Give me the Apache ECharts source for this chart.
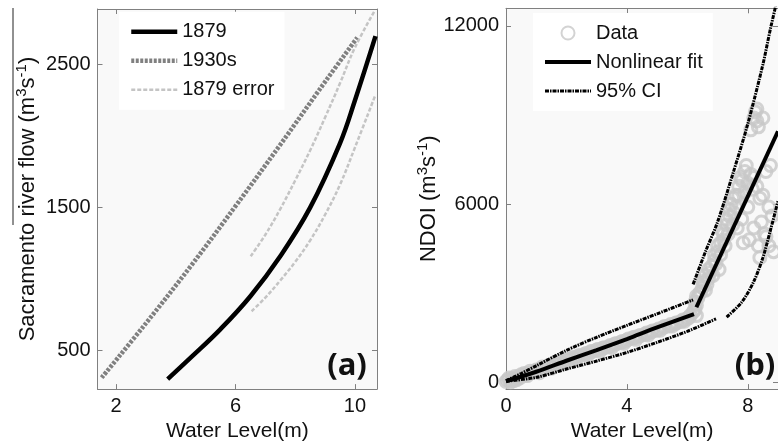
<!DOCTYPE html>
<html>
<head>
<meta charset="utf-8">
<script src="https://cdn.jsdelivr.net/npm/echarts@6/dist/echarts.min.js"></script>
<style>
  html, body { margin: 0; padding: 0; background: #fff; }
  #chart { width: 778px; height: 447px; }
</style>
</head>
<body>
<div id="chart"></div>
<script>
// panel (a): rating curves
const curve1879X = [3.73, 4.5, 5.5, 6.5, 7.5, 8.5, 9.5, 10.0, 10.69];
const curve1879Y = [300, 450, 650, 880, 1160, 1500, 1950, 2250, 2700];
const curve1930X = [1.52, 3, 4.5, 6, 7.5, 9, 10.08];
const curve1930Y = [310, 690, 1090, 1510, 1940, 2380, 2690];
const errUpX = [6.51, 7.0, 7.5, 8.0, 8.5, 9.0, 9.5, 10.0, 10.67];
const errUpY = [1160, 1310, 1490, 1690, 1900, 2130, 2370, 2620, 2880];
const errLowX = [6.54, 7.0, 7.5, 8.0, 8.5, 9.0, 9.5, 10.0, 10.69];
const errLowY = [775, 870, 990, 1120, 1270, 1450, 1660, 1920, 2290];

// panel (b): NDOI vs water level
const dataX = [0.05, 0.1, 0.2, 0.3, 0.4, 0.5, 0.6, 0.8, 1.0, 1.2, 1.4, 1.6, 1.8, 2.0, 2.2, 2.4, 2.6, 2.8, 3.0, 3.2, 3.4, 3.6, 3.8, 4.0, 4.2, 4.4, 4.6, 4.8, 5.0, 5.2, 5.4, 5.6, 5.8, 6.0, 6.1, 6.2,
  0.15, 0.35, 0.7, 1.1, 1.5, 1.9, 2.3, 2.7, 3.1, 3.5, 3.9, 4.3, 4.7, 5.1, 5.5, 5.9, 6.3,
  0.0, 0.25, 0.45, 0.65, 0.85, 1.05, 1.25, 1.45, 1.65, 1.85, 2.05, 2.25, 2.45, 2.65, 2.85, 3.05, 3.25, 3.45, 3.65, 3.85, 4.05, 4.25, 4.45, 4.65, 4.85, 5.05, 5.25, 5.45, 5.65, 5.85, 6.05, 6.25,
  6.3, 6.35, 6.4, 6.5, 6.55, 6.6, 6.7, 6.75, 6.8, 6.9, 7.0, 7.05, 7.1, 7.2, 7.25, 7.3, 7.4, 7.45, 7.55, 7.6, 7.65, 7.7, 7.8, 7.85, 7.9, 8.0, 8.05, 8.1, 8.2, 8.25, 8.3, 8.4, 8.4, 8.5, 8.55, 8.6, 8.7, 8.8,
  6.25, 6.3, 6.45, 6.5, 6.6, 6.65, 6.7, 6.85, 6.9, 6.95, 7.0, 7.1, 7.15, 7.2, 7.3, 7.35, 7.4, 7.5, 7.5, 7.6, 7.7, 7.75, 7.8, 7.9, 7.95, 8.0, 8.1, 8.15, 8.2, 8.3, 8.35, 8.45, 8.5, 8.6, 8.7, 8.75, 8.85, 8.3, 8.2, 8.35];
const dataY = [80, 150, 120, 200, 180, 260, 300, 380, 420, 520, 560, 650, 700, 760, 830, 900, 950, 1030, 1090, 1150, 1200, 1290, 1350, 1420, 1500, 1560, 1620, 1700, 1760, 1850, 1900, 1980, 2050, 2150, 2250, 2380,
  20, 90, 230, 330, 480, 640, 770, 920, 1050, 1180, 1320, 1450, 1600, 1760, 1900, 2060, 2250,
  30, 60, 150, 250, 330, 400, 470, 560, 610, 690, 770, 830, 900, 970, 1040, 1110, 1170, 1240, 1300, 1380, 1460, 1520, 1580, 1660, 1730, 1800, 1880, 1950, 2010, 2100, 2180, 2450,
  2600, 2850, 3000, 3200, 3350, 3100, 3500, 3700, 3900, 4100, 4400, 3800, 4700, 5000, 4600, 5300, 5600, 6000, 5700, 6300, 5200, 6600, 6800, 4700, 7100, 6700, 4800, 8500, 6900, 9100, 8800, 6200, 4200, 8900, 5000, 7100, 4600, 5600,
  2700, 2900, 3050, 3400, 3600, 3300, 3800, 3600, 4300, 4000, 4600, 4300, 5100, 4800, 5500, 5000, 5800, 6200, 5300, 5900, 6300, 6900, 5500, 6400, 7300, 5900, 7000, 6500, 5200, 6600, 4600, 5400, 6300, 4900, 5900, 7300, 4400, 9200, 8900, 8600];
const fitLowX = [0, 1, 2, 3, 4, 5, 6.22];
const fitLowY = [40, 360, 730, 1090, 1460, 1850, 2300];
const fitHighX = [6.3, 9.0];
const fitHighY = [2530, 8450];
const ciUpLowX = [0, 0.5, 1, 2, 3, 4, 5, 6.19];
const ciUpLowY = [60, 300, 560, 1080, 1520, 1920, 2310, 2780];
const ciUpHighX = [6.19, 6.6, 7.0, 7.5, 8.0, 8.5, 8.75, 9.0];
const ciUpHighY = [3300, 4400, 5400, 7000, 8700, 10700, 11900, 13000];
const ciLowLowX = [0, 1, 2, 3, 4, 5, 6, 6.95];
const ciLowLowY = [40, 170, 450, 720, 1010, 1350, 1720, 2140];
const ciLowHighX = [7.3, 7.8, 8.2, 8.5, 8.77, 9.0];
const ciLowHighY = [2200, 2700, 3400, 4200, 5200, 6100];

const zip = (xs, ys) => xs.map((v, i) => [v, ys[i]]);

const axisColor = '#808080';
const txt = '#111';
const font = 'Liberation Sans, Arial, sans-serif';
const ciDash = [4, 1, 1.5, 1];

function boxAxis(grid, pos, min, max, ticks, extra) {
  return Object.assign({
    gridIndex: grid, type: 'value', position: pos, min: min, max: max,
    axisLine: { show: true, onZero: false, lineStyle: { color: axisColor, width: 1 } },
    axisTick: { show: true, inside: true, length: 5, customValues: ticks, lineStyle: { color: axisColor } },
    axisLabel: { show: false },
    splitLine: { show: false }
  }, extra || {});
}

function tickLabels(ticks) {
  return { show: true, customValues: ticks, fontSize: 20, color: txt, margin: 7, formatter: (v) => String(v) };
}

const nameRich = {
  a: { fontSize: 22, fontFamily: font, color: txt },
  s: { fontSize: 15, fontFamily: font, color: txt, padding: [0, 0, 12, 0] }
};

const noSym = { opacity: 0 };

var chartDom = document.getElementById('chart');
var myChart = echarts.init(chartDom);
var option;

option = {
  backgroundColor: '#fff',
  animation: false,
  textStyle: { fontFamily: font },
  grid: [
    { left: 97.5, top: 9, width: 279.5, height: 382.5, show: true, backgroundColor: '#f9f9f9', borderWidth: 0 },
    { left: 506, top: 8.3, width: 279.5, height: 383.4, show: true, backgroundColor: '#f9f9f9', borderWidth: 0 }
  ],
  legend: [
    {
      data: [
        { name: '1879', itemStyle: noSym, lineStyle: { width: 4.5, color: '#000' } },
        { name: '1930s', itemStyle: noSym, lineStyle: { width: 4.5, color: '#808080', type: [3, 1.5] } },
        { name: '1879 error', itemStyle: noSym, lineStyle: { width: 2.5, color: '#c4c4c4', type: [4, 2] } }
      ],
      orient: 'vertical', left: 119, top: 11.7, padding: 10,
      backgroundColor: '#fff', itemWidth: 46, itemHeight: 13, itemGap: 9,
      textStyle: { fontSize: 20, color: txt, fontFamily: font }
    },
    {
      data: [
        { name: 'Data' },
        { name: 'Nonlinear fit', itemStyle: noSym, lineStyle: { width: 4, color: '#000' } },
        { name: '95% CI', itemStyle: noSym, lineStyle: { width: 3, color: '#000', type: ciDash } }
      ],
      orient: 'vertical', left: 533, top: 13, padding: 10,
      backgroundColor: '#fff', itemWidth: 46, itemHeight: 13, itemGap: 9,
      textStyle: { fontSize: 20, color: txt, fontFamily: font }
    }
  ],
  xAxis: [
    boxAxis(0, 'bottom', 1.38, 10.74, [2, 6, 10], {
      axisLabel: tickLabels([2, 6, 10]),
      name: 'Water Level(m)', nameLocation: 'middle', nameGap: 31,
      nameTextStyle: { fontSize: 21, color: txt }
    }),
    boxAxis(0, 'top', 1.38, 10.74, [2, 6, 10]),
    boxAxis(1, 'bottom', 0, 9.0, [0, 4, 8], {
      axisLabel: tickLabels([0, 4, 8]),
      name: 'Water Level(m)', nameLocation: 'middle', nameGap: 31,
      nameTextStyle: { fontSize: 21, color: txt }
    }),
    boxAxis(1, 'top', 0, 9.0, [0, 4, 8])
  ],
  yAxis: [
    boxAxis(0, 'left', 230, 2890, [500, 1500, 2500], {
      axisLabel: tickLabels([500, 1500, 2500]),
      name: '{a|Sacramento river flow (m}{s|3}{a|s}{s|-1}{a|)}', nameLocation: 'middle', nameGap: 56,
      nameTextStyle: { rich: nameRich }
    }),
    boxAxis(0, 'right', 230, 2890, [500, 1500, 2500]),
    boxAxis(1, 'left', -224, 12590, [0, 6000, 12000], {
      axisLabel: tickLabels([0, 6000, 12000]),
      name: '{a|NDOI (m}{s|3}{a|s}{s|-1}{a|)}', nameLocation: 'middle', nameGap: 60,
      nameTextStyle: { rich: nameRich }
    }),
    boxAxis(1, 'right', -224, 12590, [0, 6000, 12000])
  ],
  graphic: [
    { type: 'line', shape: { x1: 13, y1: 8, x2: 13, y2: 225 }, style: { stroke: '#222', lineWidth: 1 } },
    { type: 'text', x: 347, y: 366, style: { text: '(a)', fontSize: 31, fontWeight: 'bold', fontFamily: 'Open Sans', fill: '#111', align: 'center', verticalAlign: 'middle' } },
    { type: 'text', x: 755, y: 366, style: { text: '(b)', fontSize: 31, fontWeight: 'bold', fontFamily: 'Open Sans', fill: '#111', align: 'center', verticalAlign: 'middle' } }
  ],
  series: [
    {
      name: '1930s', type: 'line', xAxisIndex: 0, yAxisIndex: 0, symbol: 'none', smooth: 0.4,
      data: zip(curve1930X, curve1930Y), color: '#808080',
      lineStyle: { color: '#808080', width: 4.5, type: [3, 1.5] }
    },
    {
      name: '1879 error', type: 'line', xAxisIndex: 0, yAxisIndex: 0, symbol: 'none', smooth: 0.4,
      data: zip(errUpX, errUpY), color: '#c4c4c4',
      lineStyle: { color: '#c4c4c4', width: 2.5, type: [4, 2] }
    },
    {
      name: '1879 error', type: 'line', xAxisIndex: 0, yAxisIndex: 0, symbol: 'none', smooth: 0.4,
      data: zip(errLowX, errLowY), color: '#c4c4c4',
      lineStyle: { color: '#c4c4c4', width: 2.5, type: [4, 2] }
    },
    {
      name: '1879', type: 'line', xAxisIndex: 0, yAxisIndex: 0, symbol: 'none', smooth: 0.4,
      data: zip(curve1879X, curve1879Y), color: '#000',
      lineStyle: { color: '#000', width: 4.5 }
    },
    {
      name: 'Data', type: 'scatter', xAxisIndex: 2, yAxisIndex: 2,
      symbol: 'circle', symbolSize: 12,
      data: zip(dataX, dataY),
      itemStyle: { color: 'rgba(0,0,0,0)', borderColor: '#c8c8c8', borderWidth: 3 }
    },
    {
      name: '95% CI', type: 'line', xAxisIndex: 2, yAxisIndex: 2, symbol: 'none', smooth: 0.3,
      data: zip(ciUpLowX, ciUpLowY), color: '#000',
      lineStyle: { color: '#000', width: 3, type: ciDash }
    },
    {
      name: '95% CI', type: 'line', xAxisIndex: 2, yAxisIndex: 2, symbol: 'none', smooth: 0.3,
      data: zip(ciUpHighX, ciUpHighY), color: '#000',
      lineStyle: { color: '#000', width: 3, type: ciDash }
    },
    {
      name: '95% CI', type: 'line', xAxisIndex: 2, yAxisIndex: 2, symbol: 'none', smooth: 0.3,
      data: zip(ciLowLowX, ciLowLowY), color: '#000',
      lineStyle: { color: '#000', width: 3, type: ciDash }
    },
    {
      name: '95% CI', type: 'line', xAxisIndex: 2, yAxisIndex: 2, symbol: 'none', smooth: 0.3,
      data: zip(ciLowHighX, ciLowHighY), color: '#000',
      lineStyle: { color: '#000', width: 3, type: ciDash }
    },
    {
      name: 'Nonlinear fit', type: 'line', xAxisIndex: 2, yAxisIndex: 2, symbol: 'none', smooth: 0.3,
      data: zip(fitLowX, fitLowY), color: '#000',
      lineStyle: { color: '#000', width: 4 }
    },
    {
      name: 'Nonlinear fit', type: 'line', xAxisIndex: 2, yAxisIndex: 2, symbol: 'none',
      data: zip(fitHighX, fitHighY), color: '#000',
      lineStyle: { color: '#000', width: 4 }
    }
  ]
};

option && myChart.setOption(option);
</script>
</body>
</html>
